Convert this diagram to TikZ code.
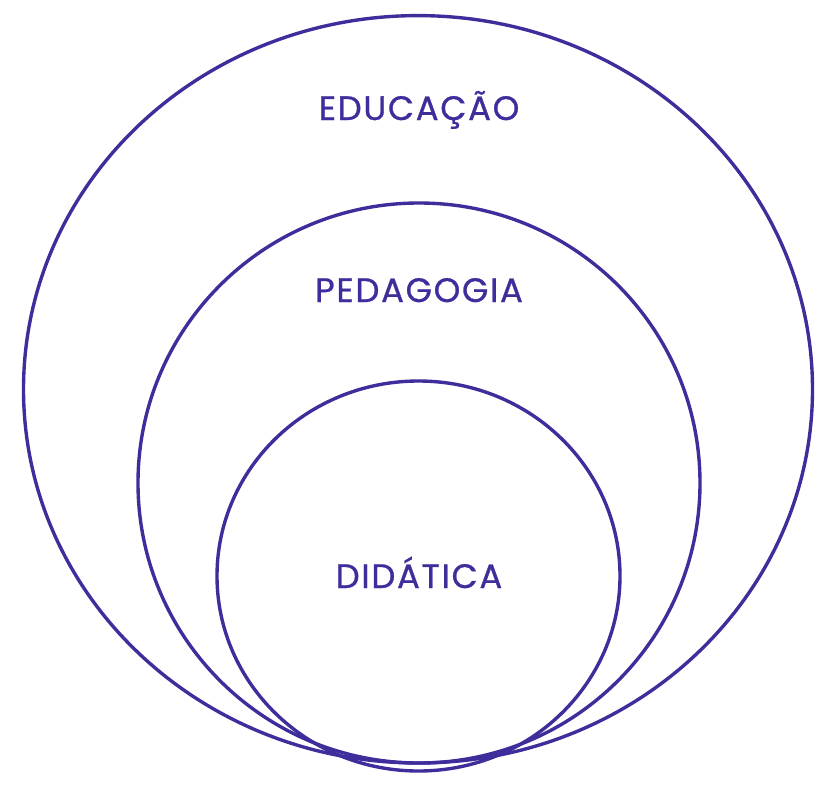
\documentclass[tikz,border=0pt]{standalone}
\usepackage{fontspec}
\newfontfamily\labelfont[LetterSpace=5,FakeBold=0.8]{Poppins}
\definecolor{indigo}{HTML}{3D2E9C}
\tikzset{
  ring/.style={draw=indigo,line width=3.4pt},
  lbl/.style={anchor=base,text=indigo,inner sep=0pt,font=\labelfont\fontsize{34}{40}\selectfont},
}
\begin{document}
\begin{tikzpicture}[x=1bp,y=-1bp]
  \useasboundingbox (0,0) rectangle (835,788);
  % three nested rings, all meeting near the bottom
  \draw[ring] (418,389.3) ellipse [x radius=394.5,y radius=373.7];
  \draw[ring] (419,483) ellipse [x radius=281,y radius=280];
  \draw[ring] (418.5,576) ellipse [x radius=201.5,y radius=195];
  % labels
  \node[lbl] (educacao) at (419,120) {EDUCAÇÃO};
  \node[lbl] (pedagogia) at (419,302) {PEDAGOGIA};
  \node[lbl] (didatica) at (419,588) {DIDÁTICA};
\end{tikzpicture}
\end{document}
